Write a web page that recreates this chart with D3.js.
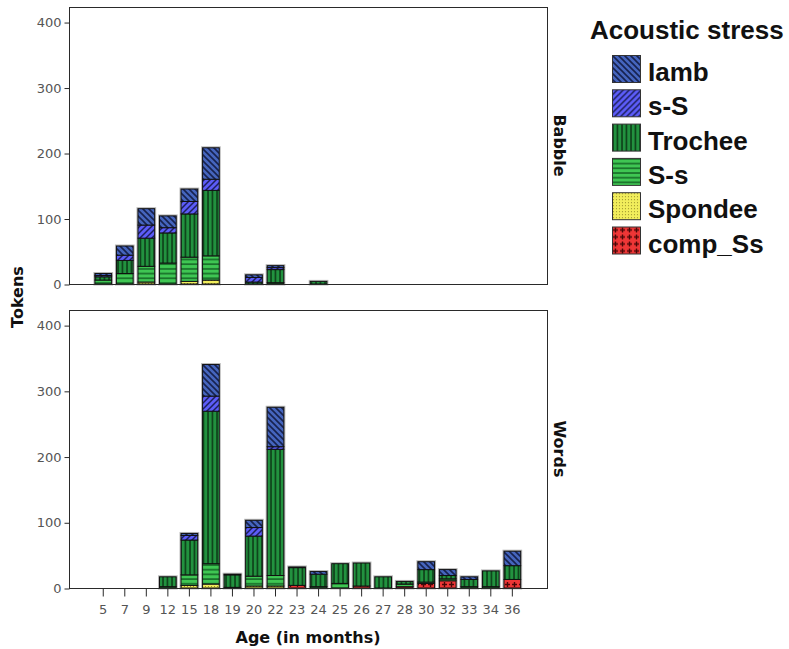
<!DOCTYPE html>
<html>
<head>
<meta charset="utf-8">
<script src="https://cdn.jsdelivr.net/npm/d3@7"></script>
<style>
  body { margin: 0; background: #fff; }
  svg { display: block; }
</style>
</head>
<body>
<script>
// Ages (in months) shown on the x axis
const ages = [5, 7, 9, 12, 15, 18, 19, 20, 22, 23, 24, 25, 26, 27, 28, 30, 32, 33, 34, 36];

// Token counts per age for each stress pattern — Babble
const babbleIamb    = [3, 14, 25, 18, 19, 48, 0, 4, 3, 0, 0, 0, 0, 0, 0, 0, 0, 0, 0, 0];
const babbleSS      = [2, 8, 20, 8, 19, 17, 0, 7, 3, 0, 0, 0, 0, 0, 0, 0, 0, 0, 0, 0];
const babbleTrochee = [5, 20, 43, 46, 66, 100, 0, 3, 20, 0, 4, 0, 0, 0, 0, 0, 0, 0, 0, 0];
const babbleSs      = [6, 16, 24, 32, 37, 37, 0, 0, 2, 0, 0, 0, 0, 0, 0, 0, 0, 0, 0, 0];
const babbleSpondee = [0, 0, 3, 0, 4, 6, 0, 0, 0, 0, 0, 0, 0, 0, 0, 0, 0, 0, 0, 0];
const babbleComp    = [0, 0, 0, 0, 0, 0, 0, 0, 0, 0, 0, 0, 0, 0, 0, 0, 0, 0, 0, 0];

// Token counts per age for each stress pattern — Words
const wordsIamb    = [0, 0, 0, 0, 3, 48, 1, 11, 60, 1, 4, 0, 0, 0, 0, 12, 9, 4, 0, 22];
const wordsSS      = [0, 0, 0, 0, 7, 23, 0, 13, 4, 0, 0, 0, 0, 0, 0, 0, 0, 0, 0, 0];
const wordsTrochee = [0, 0, 0, 15, 53, 232, 19, 61, 192, 27, 19, 30, 35, 17, 4, 19, 5, 11, 24, 21];
const wordsSs      = [0, 0, 0, 2, 16, 31, 1, 15, 16, 0, 2, 7, 0, 0, 4, 2, 3, 2, 2, 0];
const wordsSpondee = [0, 0, 0, 0, 4, 6, 0, 3, 3, 0, 0, 0, 0, 0, 0, 0, 0, 0, 0, 0];
const wordsComp    = [0, 0, 0, 0, 0, 0, 0, 0, 0, 4, 0, 0, 3, 0, 2, 7, 11, 0, 0, 13];

// Stacking order (bottom to top) and legend order (top to bottom)
const stackKeys = ["comp_Ss", "Spondee", "S-s", "Trochee", "s-S", "Iamb"];
const legendKeys = ["Iamb", "s-S", "Trochee", "S-s", "Spondee", "comp_Ss"];
const yTicks = [0, 100, 200, 300, 400];
const panelNames = ["Babble", "Words"];

const panelSeries = {
  Babble: { "Iamb": babbleIamb, "s-S": babbleSS, "Trochee": babbleTrochee, "S-s": babbleSs, "Spondee": babbleSpondee, "comp_Ss": babbleComp },
  Words:  { "Iamb": wordsIamb,  "s-S": wordsSS,  "Trochee": wordsTrochee,  "S-s": wordsSs,  "Spondee": wordsSpondee,  "comp_Ss": wordsComp }
};

const W = 789, H = 649;
const svg = d3.select("body").append("svg").attr("width", W).attr("height", H);

// ---- fill patterns for each stress type ----
const defs = svg.append("defs");
const patId = k => "pat-" + k.replace(/[^A-Za-z]/g, "_");

function pattern(key, w, h, base, draw) {
  const p = defs.append("pattern").attr("id", patId(key))
    .attr("patternUnits", "userSpaceOnUse").attr("width", w).attr("height", h);
  p.append("rect").attr("width", w).attr("height", h).attr("fill", base);
  draw(p);
}
pattern("Iamb", 6, 6, "#4565be", p => p.append("path")
  .attr("d", "M-1,-1L7,7M-1,5L1,7M5,-1L7,1").attr("stroke", "#17224f").attr("stroke-width", 1.6));
pattern("s-S", 6, 6, "#5c5cf8", p => p.append("path")
  .attr("d", "M-1,7L7,-1M-1,1L1,-1M5,7L7,5").attr("stroke", "#1c1f5c").attr("stroke-width", 1.5));
pattern("Trochee", 4.5, 4, "#22923f", p => p.append("path")
  .attr("d", "M1,0V4").attr("stroke", "#0b3816").attr("stroke-width", 1.5));
pattern("S-s", 4, 4.7, "#3fc653", p => p.append("path")
  .attr("d", "M0,1H4").attr("stroke", "#136424").attr("stroke-width", 1.5));
pattern("Spondee", 3, 3, "#f2ee5c", p => p.append("circle")
  .attr("cx", 1.5).attr("cy", 1.5).attr("r", 0.6).attr("fill", "#8a8224"));
pattern("comp_Ss", 7, 7, "#ee3636", p => p.append("path")
  .attr("d", "M3.5,1V6M1,3.5H6").attr("stroke", "#4a0808").attr("stroke-width", 1.4));

// ---- layout ----
const plotLeft = 69, plotRight = 547;
const panels = [
  { name: "Babble", top: 7, bottom: 284 },
  { name: "Words", top: 310, bottom: 588 }
];
const yMax = 423;

const x = d3.scaleBand()
  .domain(ages)
  .range([92.5, 523.1])
  .paddingInner(0.225)
  .paddingOuter(0.1125);

const stack = d3.stack().keys(stackKeys);

panels.forEach((panel, pi) => {
  const y = d3.scaleLinear().domain([0, yMax]).range([panel.bottom, panel.top]);
  const g = svg.append("g");

  const series = panelSeries[panel.name];
  const rows = ages.map((a, i) => {
    const r = { age: a };
    stackKeys.forEach(k => r[k] = series[k][i]);
    return r;
  });
  const stacked = stack(rows);
  const total = r => d3.sum(stackKeys, k => r[k]);

  // soft grey outline behind each bar
  g.append("g").selectAll("rect")
    .data(rows.filter(r => total(r) > 0))
    .join("rect")
    .attr("x", r => x(r.age))
    .attr("width", x.bandwidth())
    .attr("y", r => y(total(r)))
    .attr("height", r => y(0) - y(total(r)))
    .attr("fill", "none")
    .attr("stroke", "#b8b8b8")
    .attr("stroke-width", 3);

  // stacked segments
  g.append("g").selectAll("g")
    .data(stacked)
    .join("g")
    .attr("fill", s => `url(#${patId(s.key)})`)
    .selectAll("rect")
    .data(s => s.filter(d => d[1] > d[0]))
    .join("rect")
    .attr("x", d => x(d.data.age))
    .attr("width", x.bandwidth())
    .attr("y", d => y(d[1]))
    .attr("height", d => y(d[0]) - y(d[1]))
    .attr("stroke", "#111")
    .attr("stroke-width", 1);

  // panel frame
  g.append("rect")
    .attr("x", plotLeft + 0.5).attr("y", panel.top + 0.5)
    .attr("width", plotRight - plotLeft).attr("height", panel.bottom - panel.top)
    .attr("fill", "none").attr("stroke", "#2a2a2a").attr("stroke-width", 1);

  // y axis
  const ya = g.append("g")
    .attr("transform", `translate(${plotLeft + 0.5},0.5)`)
    .call(d3.axisLeft(y).tickValues(yTicks).tickSize(5).tickPadding(3));
  ya.select(".domain").remove();
  ya.selectAll("line").attr("stroke", "#2a2a2a");
  ya.selectAll("text").attr("fill", "#555").attr("font-family", "DejaVu Sans").attr("font-size", 13);

  // panel label
  svg.append("text")
    .attr("transform", `translate(554,${(panel.top + panel.bottom) / 2}) rotate(90)`)
    .attr("text-anchor", "middle")
    .attr("font-family", "DejaVu Sans").attr("font-weight", "bold").attr("font-size", 16)
    .attr("fill", "#111")
    .text(panelNames[pi]);

  if (pi === panels.length - 1) {
    const xa = g.append("g")
      .attr("transform", `translate(0,${panel.bottom + 0.5})`)
      .call(d3.axisBottom(x).tickSize(8).tickPadding(8));
    xa.select(".domain").remove();
    xa.selectAll("line").attr("stroke", "#2a2a2a");
    xa.selectAll("text").attr("fill", "#555").attr("font-family", "DejaVu Sans").attr("font-size", 13);
  }
});

// axis titles
svg.append("text")
  .attr("transform", "translate(23,297) rotate(-90)")
  .attr("text-anchor", "middle")
  .attr("font-family", "DejaVu Sans").attr("font-weight", "bold").attr("font-size", 16)
  .attr("fill", "#111")
  .text("Tokens");

svg.append("text")
  .attr("x", (plotLeft + plotRight) / 2).attr("y", 643)
  .attr("text-anchor", "middle")
  .attr("font-family", "DejaVu Sans").attr("font-weight", "bold").attr("font-size", 16)
  .attr("fill", "#111")
  .text("Age (in months)");

// legend
const legend = svg.append("g");
legend.append("text")
  .attr("x", 590).attr("y", 39)
  .attr("font-family", "Liberation Sans").attr("font-weight", "bold").attr("font-size", 26)
  .attr("fill", "#111")
  .text("Acoustic stress");

const item = legend.selectAll("g.item")
  .data(legendKeys)
  .join("g")
  .attr("class", "item")
  .attr("transform", (k, i) => `translate(612,${55 + i * 34.3})`);
item.append("rect")
  .attr("x", 0.5).attr("y", 0.5).attr("width", 28).attr("height", 27)
  .attr("fill", k => `url(#${patId(k)})`)
  .attr("stroke", "#333").attr("stroke-width", 1);
item.append("text")
  .attr("x", 36).attr("y", 26)
  .attr("font-family", "Liberation Sans").attr("font-weight", "bold").attr("font-size", 26)
  .attr("fill", "#111")
  .text(k => k);
</script>
</body>
</html>
